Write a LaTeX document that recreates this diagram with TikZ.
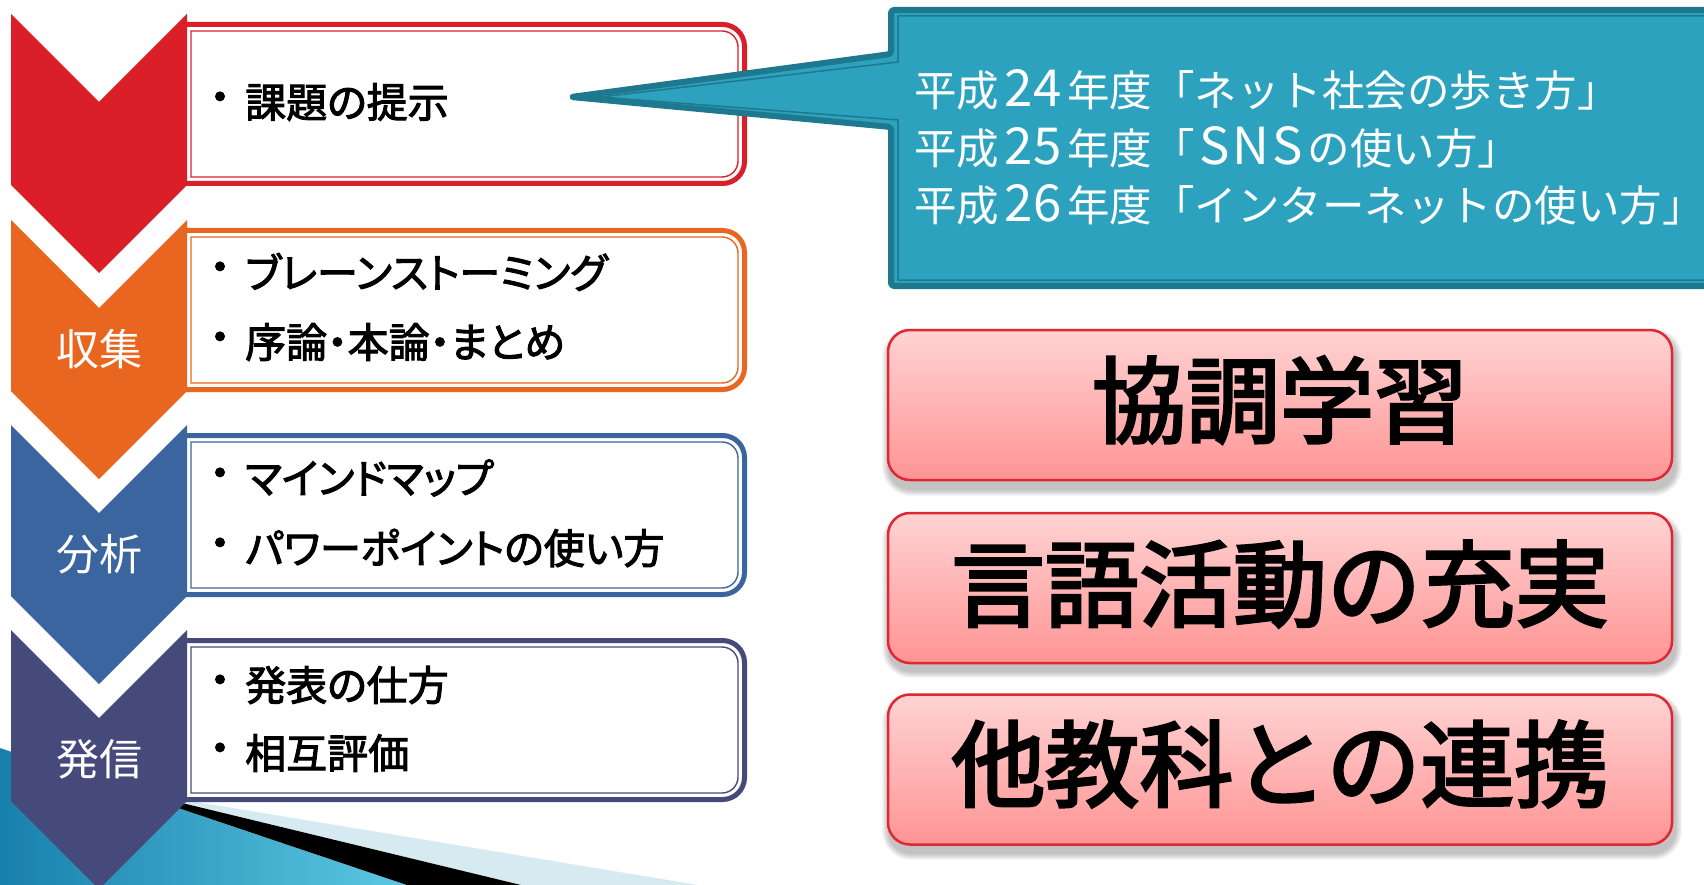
\documentclass[tikz,border=0pt]{standalone}
\usepackage{fontspec}
\setmainfont{Noto Sans CJK JP}
\newfontfamily\jpp[RawFeature=+palt, FakeBold=2.5]{Noto Sans CJK JP}
\newfontfamily\jpm[FakeBold=3]{Noto Sans CJK JP}
\definecolor{cRed}{RGB}{218,31,40}
\definecolor{cOrg}{RGB}{233,102,32}
\definecolor{cBlu}{RGB}{58,101,158}
\definecolor{cSla}{RGB}{70,74,122}
\definecolor{cTeal}{RGB}{45,162,191}
\definecolor{cTealD}{RGB}{30,120,142}
\definecolor{cPinkT}{RGB}{255,211,211}
\definecolor{cPinkB}{RGB}{255,148,148}
\definecolor{cPinkL}{RGB}{224,40,52}
\definecolor{cSeaL}{RGB}{24,128,172}
\definecolor{cSeaR}{RGB}{92,200,226}
\definecolor{cPale}{RGB}{214,234,242}
\newcommand\lbox[2]{%
 \draw[draw=#2, line width=5pt, fill=white] (183,{-(#1+10.5)}) -- ({744.5-22},{-(#1+10.5)}) arc[start angle=90,end angle=0,radius=22] -- (744.5,{-(#1+169.5-22)}) arc[start angle=0,end angle=-90,radius=22] -- (183,{-(#1+169.5)}) -- cycle;
 \draw[draw=#2, line width=1.4pt] (191,{-(#1+17)}) -- ({738-16},{-(#1+17)}) arc[start angle=90,end angle=0,radius=16] -- (738,{-(#1+163-16)}) arc[start angle=0,end angle=-90,radius=16] -- (191,{-(#1+163)}) -- cycle;
}
\newcommand\chev[2]{\fill[#2] (11,{-#1}) -- (99,{-(#1+88)}) -- (187,{-#1}) -- (187,{-(#1+171)}) -- (99,{-(#1+259)}) -- (11,{-(#1+171)}) -- cycle;}
\newcommand\pshadow[2]{%
 \foreach \i in {1,...,7} {\fill[black, opacity=0.035, rounded corners={22+\i}] ({887+2-\i},{-(#1+6-\i)}) rectangle ({1673+2+\i},{-(#2+8+\i)});}
}
\newcommand\dg[1]{\makebox[68pt]{\fontsize{51}{51}\selectfont #1}}
\begin{document}
\begin{tikzpicture}[x=1pt,y=1pt,
  item/.style={anchor=west, inner sep=0pt, text=black, font=\jpp\fontsize{41}{41}\selectfont},
  dot/.style={inner sep=0pt, text=black, font=\jpm\fontsize{41}{41}\selectfont},
  lab/.style={inner sep=0pt, text=white, font=\fontsize{43}{43}\selectfont},
  calltext/.style={anchor=west, inner sep=0pt, text=white, font=\fontsize{42.5}{42.5}\selectfont},
  pinkbox/.style={draw=cPinkL, line width=2.5pt, rounded corners=22, top color=cPinkT, bottom color=cPinkB, minimum width=784pt, minimum height=150pt, inner sep=0pt},
  big/.style={inner sep=0pt, text=black, font=\jpm\fontsize{94}{94}\selectfont}
]
\useasboundingbox (0,0) rectangle (1704,-885);
\fill[white] (0,0) rectangle (1704,-885);
% bottom-left decoration
\shade[left color=cSeaL, right color=cSeaR] (0,-748) -- (407,-885) -- (0,-885) -- cycle;
\fill[cPale] (142,-793) -- (698,-885) -- (521,-885) -- cycle;
\fill[black] (116,-787) -- (521,-885) -- (407,-885) -- cycle;
% left boxes
\lbox{14}{cRed}
\lbox{220}{cOrg}
\lbox{425}{cBlu}
\lbox{630}{cSla}
% chevrons
\chev{14}{cRed}
\chev{220}{cOrg}
\chev{425}{cBlu}
\chev{630}{cSla}
\node[lab] (l2) at (99,-349) {収集};
\node[lab] (l3) at (99,-554) {分析};
\node[lab] (l4) at (99,-759) {発信};
% items
\node[dot] (d1) at (220,-102) {・};
\node[item] (t1) at (245,-102) {課題の提示};
\node[dot] (d2a) at (220,-272) {・};
\node[item] (t2a) at (245,-272) {ブレーンストーミング};
\node[dot] (d2b) at (220,-342) {・};
\node[item] (t2b) at (245,-342) {序論・本論・まとめ};
\node[dot] (d3a) at (220,-478) {・};
\node[item] (t3a) at (245,-478) {マインドマップ};
\node[dot] (d3b) at (220,-548) {・};
\node[item] (t3b) at (245,-548) {パワーポイントの使い方};
\node[dot] (d4a) at (220,-685) {・};
\node[item] (t4a) at (245,-685) {発表の仕方};
\node[dot] (d4b) at (220,-753) {・};
\node[item] (t4b) at (245,-753) {相互評価};
% callout
\draw[fill=cTeal, draw=cTealD, line width=6pt, line join=round, rounded corners=3] (1730,-10) -- (891,-10) -- (891,-54) -- (571,-97) -- (891,-127) -- (891,-286) -- (1730,-286);
\draw[draw=cTealD, line width=1.5pt, line join=round] (1730,-16) -- (898,-16) -- (898,-62) -- (600,-97) -- (898,-120) -- (898,-280) -- (1730,-280);
\node[calltext] (c1) at (914,-90) {平成\dg{24}年度「ネット社会の歩き方」};
\node[calltext] (c2) at (914,-147) {平成\dg{25}年度「\makebox[113pt]{\fontsize{51}{51}\selectfont S\kern3pt N\kern3pt S}の使い方」};
\node[calltext] (c3) at (914,-205) {平成\dg{26}年度「インターネットの使い方」};
% pink boxes
\pshadow{329}{481}
\pshadow{513}{663}
\pshadow{694}{845}
\node[pinkbox] (p1) at (1280,-405) {};
\node[pinkbox] (p2) at (1280,-588) {};
\node[pinkbox] (p3) at (1280,-769.5) {};
\node[big] (b1) at (1280,-400) {協調学習};
\node[big] (b2) at (1280,-584) {言語活動の充実};
\node[big] (b3) at (1280,-764) {他教科との連携};
\end{tikzpicture}
\end{document}
